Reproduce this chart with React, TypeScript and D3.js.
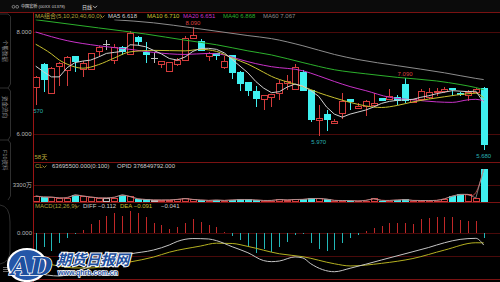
import React from "react";
import * as d3 from "d3";

// ---------------- data ----------------
const opens = [6.91,7.38,6.81,7.34,7.26,7.52,7.28,7.27,7.63,7.76,7.46,7.71,7.57,7.91,7.61,7.49,7.38,7.24,7.38,7.46,7.90,7.83,7.54,7.58,7.32,7.54,7.22,7.01,6.85,6.69,6.73,6.80,7.01,6.88,7.21,6.86,6.27,6.39,6.22,6.41,6.68,6.52,6.55,6.58,6.70,6.68,6.72,6.99,6.63,6.68,6.74,6.84,6.85,6.91,6.81,6.77,6.83,6.91];
const highs = [7.13,7.39,7.31,7.41,7.52,7.52,7.44,7.59,7.72,7.84,7.77,7.72,8.01,7.92,7.80,7.59,7.44,7.41,7.50,7.93,8.09,7.86,7.60,7.59,7.52,7.54,7.23,7.02,6.94,6.76,6.79,7.06,7.16,7.37,7.26,6.87,6.57,6.47,6.29,6.80,6.68,6.61,6.67,6.80,6.70,6.88,6.77,7.09,6.68,6.88,6.90,6.90,6.92,6.91,6.82,6.86,6.90,6.93];
const lows = [6.57,6.83,6.81,6.94,6.95,7.22,7.11,7.26,7.53,7.65,7.37,7.55,7.56,7.75,7.39,7.39,7.30,7.23,7.34,7.46,7.90,7.63,7.43,7.45,7.27,7.07,6.84,6.75,6.53,6.47,6.53,6.67,6.86,6.88,6.85,6.24,5.97,6.05,6.19,6.29,6.48,6.50,6.35,6.57,6.65,6.67,6.57,6.61,6.60,6.65,6.69,6.75,6.80,6.75,6.75,6.65,6.81,5.68];
const closes = [7.11,7.06,7.30,7.40,7.51,7.41,7.39,7.58,7.71,7.76,7.71,7.61,7.99,7.80,7.55,7.49,7.43,7.41,7.45,7.89,7.95,7.63,7.59,7.52,7.43,7.20,6.99,6.84,6.68,6.76,6.78,7.00,7.04,7.31,6.85,6.27,6.31,6.28,6.26,6.65,6.63,6.55,6.64,6.61,6.65,6.74,6.65,6.65,6.68,6.84,6.83,6.85,6.88,6.86,6.76,6.82,6.88,5.79];
// volume in 万股
const volumes = [1160,970,970,780,780,1440,1160,970,780,780,870,1440,1070,580,490,390,390,390,490,680,490,390,290,390,290,390,490,490,390,290,290,490,390,490,490,680,680,580,290,290,290,190,290,680,290,290,390,490,290,290,290,290,580,1160,1490,1490,780,6369.55];
const macdHist = [-0.17,-0.13,-0.17,-0.09,-0.04,-0.01,0.03,0.09,0.127,0.168,0.19,0.165,0.212,0.19,0.158,0.10,0.079,0.041,0.063,0.095,0.136,0.11,0.079,0.057,0.015,-0.026,-0.064,-0.118,-0.19,-0.15,-0.175,-0.128,-0.08,-0.016,-0.01,-0.095,-0.15,-0.166,-0.16,-0.095,-0.042,-0.016,0.022,0.053,0.072,0.10,0.10,0.095,0.086,0.133,0.149,0.158,0.158,0.158,0.127,0.117,0.117,-0.041];
const ma5 = [7.33,7.22,7.12,7.12,7.30,7.40,7.43,7.45,7.51,7.58,7.60,7.62,7.75,7.74,7.71,7.64,7.57,7.48,7.45,7.51,7.62,7.68,7.68,7.66,7.59,7.46,7.33,7.20,7.03,6.90,6.81,6.83,6.92,6.98,6.94,6.85,6.74,6.53,6.39,6.33,6.39,6.43,6.47,6.53,6.60,6.64,6.66,6.67,6.68,6.72,6.75,6.79,6.82,6.85,6.84,6.83,6.84,6.618];
// [candle index, value]
const ma10 = [[0,7.76],[2,7.57],[3,7.45],[4,7.37],[6,7.29],[8,7.36],[10,7.49],[12,7.61],[15,7.64],[19,7.63],[21,7.66],[23,7.62],[25,7.49],[27,7.37],[29,7.21],[30,7.13],[32,7.02],[34,6.93],[36,6.81],[38,6.71],[40,6.62],[42,6.55],[44,6.52],[46,6.56],[48,6.63],[52,6.73],[55,6.79],[56,6.80],[57,6.71]];
const ma20 = [[0,8.00],[4,7.83],[8,7.73],[12,7.66],[15,7.60],[19,7.56],[22,7.58],[24,7.55],[26,7.46],[28,7.38],[30,7.32],[34,7.24],[36,7.14],[38,7.03],[40,6.93],[42,6.85],[45,6.72],[48,6.67],[51,6.63],[53,6.62],[55,6.67],[56,6.68],[57,6.651]];
const ma40 = [[0,8.24],[8,8.08],[14,7.96],[19,7.84],[23,7.75],[27,7.63],[30,7.55],[34,7.40],[38,7.26],[42,7.18],[46,7.11],[51,7.04],[54,6.97],[56,6.91],[57,6.868]];
const ma60 = [[10,8.24],[15,8.18],[20,8.08],[27,7.93],[30,7.87],[34,7.73],[38,7.56],[41,7.46],[46,7.34],[52,7.20],[56,7.09],[57,7.067]];
const diffLine = [[0,-0.378],[3,-0.407],[5,-0.369],[7,-0.311],[9,-0.254],[12,-0.197],[15,-0.159],[17,-0.111],[18,-0.078],[20,-0.05],[22,-0.054],[23,-0.07],[25,-0.128],[27,-0.185],[29,-0.26],[30,-0.27],[31,-0.264],[33,-0.225],[34,-0.235],[35,-0.29],[38,-0.366],[40,-0.333],[44,-0.254],[48,-0.175],[50,-0.135],[52,-0.09],[54,-0.058],[56,-0.048],[57,-0.112]];
const deaLine = [[0,-0.273],[3,-0.311],[5,-0.330],[7,-0.330],[9,-0.311],[12,-0.273],[15,-0.226],[17,-0.180],[21,-0.121],[23,-0.094],[25,-0.097],[27,-0.125],[31,-0.195],[34,-0.223],[38,-0.29],[40,-0.311],[44,-0.286],[48,-0.24],[52,-0.16],[56,-0.09],[57,-0.091]];

const priceTicks = [8, 6];
const volTicks = [3300];
const macdTicks = [0];
const macdGrid = [-0.22];
const maNames = ["MA5", "MA10", "MA20", "MA40", "MA60"];
const maLast = [6.618, 6.710, 6.651, 6.868, 7.067];
const maTitle = "MA组合(5,10,20,40,60,0)";
const volTitle = "CL";
const volLast = 63695500;
const opidLast = 376849792;
const macdTitle = "MACD(12,26,9)";
const diffLast = -0.112;
const deaLast = -0.091;
const macdLast = -0.041;
const marks = [
  { i: 20, kind: "high", text: "8.090" },
  { i: 47, kind: "high", text: "7.090" },
  { i: 36, kind: "low", text: "5.970" },
  { i: 57, kind: "low", text: "5.680" },
  { i: 0, kind: "low", text: "6.570" },
];
const stockName = "中国宏桥";
const stockCode = "(00XX 01378)";
const periodLabel = "日线";
const daysLabel = "58天";
const sideTabs = ["个股数据", "资金流向", "F10资料"];

// ---------------- style ----------------
const FONT = "'Liberation Sans', Arial, 'Noto Sans CJK SC', sans-serif";
const UP = "#d43c3c";
const DOWN = "#3ff0f0";
const FLAT = "#c0c0c0";
const PANEL = "#7a1212";
const GRID = "#4a0a0a";
const AXIS_TEXT = "#b8b8b8";
const MA_COLORS = ["#cfcfcf", "#c8c030", "#c832c8", "#2cb02c", "#8c8c8c"];

const f3 = d3.format(".3f");

function Chevron({ x, y, color }: { x: number; y: number; color: string }) {
  return <path d={`M${x},${y} L${x + 2},${y + 2} L${x + 4},${y}`} fill="none" stroke={color} strokeWidth={0.8} />;
}

export default function App() {
  const n = closes.length;
  const x = d3.scaleLinear().domain([0, n - 1]).range([35.7, 483.7]);
  const yP = d3.scaleLinear().domain([6, 8]).range([134, 32]);
  const yV = d3.scaleLinear().domain([0, 7760]).range([202, 162]);
  const yM = d3.scaleLinear().domain([-0.44, 0.22]).range([279.5, 210.2]);

  const pairLine = (ys: d3.ScaleLinear<number, number>, curve: any) =>
    d3.line<number[]>().x((d) => x(d[0])).y((d) => ys(d[1])).curve(curve);
  const priceCurve = pairLine(yP, d3.curveMonotoneX);
  const macdCurve = pairLine(yM, d3.curveMonotoneX);
  const ma5Line = d3.line<number>().x((_, i) => x(i)).y((d) => yP(d));
  const volLine = d3.line<number>().x((_, i) => x(i)).y((d) => yV(d));
  const volCurve = d3.line<number>().x((_, i) => x(i)).y((d) => yV(d)).curve(d3.curveBasis);

  const cx = (i: number) => Math.round(x(i));

  return (
    <svg width={500} height={282} style={{ position: "absolute", left: 0, top: 0, background: "#000", display: "block" }} fontFamily={FONT}>
      <defs>
        <clipPath id="mainClip"><rect x={33.5} y={19.5} width={466.5} height={142} /></clipPath>
        <clipPath id="volClip"><rect x={33.5} y={163} width={466.5} height={39} /></clipPath>
        <clipPath id="macdClip"><rect x={33.5} y={209} width={466.5} height={70.5} /></clipPath>
      </defs>
      <rect x={0} y={0} width={500} height={282} fill="#000" />

      {/* header */}
      <rect x={0} y={0} width={500} height={12} fill="#0b0b0b" />
      <circle cx={13.5} cy={6.8} r={1.4} fill="none" stroke="#bbb" strokeWidth={0.6} />
      <circle cx={17.2} cy={6.8} r={1.4} fill="none" stroke="#bbb" strokeWidth={0.6} />
      <text x={21} y={8.4} fontSize={4.1} fill="#e0e0e0">{stockName}</text>
      <text x={38.5} y={8.4} fontSize={4.3} fill="#cfcfcf">{stockCode}</text>
      <text x={82} y={8.6} fontSize={5} fill="#e0e0e0">{periodLabel}</text>
      <Chevron x={93} y={5.8} color="#ddd" />

      {/* left side tabs */}
      <g stroke="#3a3a3a" strokeWidth={0.8} fill="none">
        <path d="M0,14 L8,14 L10.5,16.5 L10.5,84 L8,88" />
        <path d="M0,88 L8,88 L10.5,91 L10.5,136 L8,140" />
        <path d="M0,140 L8,140 L10.5,143 L10.5,196 L8,200" />
        <path d="M0,205 Q10,206 10,222 L10,250 Q10,262 0,264" />
      </g>
      {sideTabs.map((t, k) => {
        const yy = [40, 96, 150][k];
        return (
          <text key={t} x={3} y={yy} fontSize={5.5} fill="#8e8e8e" transform={`rotate(90 3 ${yy})`}>{t}</text>
        );
      })}
      <g stroke="#9a9a9a" strokeWidth={0.7}>
        <line x1={3} x2={8} y1={267.5} y2={267.5} />
        <line x1={3} x2={8} y1={269.5} y2={269.5} />
        <line x1={3} x2={8} y1={271.5} y2={271.5} />
      </g>

      {/* panel frames and grid */}
      <g shapeRendering="crispEdges">
        <line x1={0} x2={500} y1={12.5} y2={12.5} stroke={PANEL} />
        {priceTicks.map((t) => (
          <line key={t} x1={33} x2={500} y1={Math.round(yP(t)) + 0.5} y2={Math.round(yP(t)) + 0.5} stroke={GRID} />
        ))}
        <line x1={33} x2={500} y1={162.5} y2={162.5} stroke={PANEL} />
        {volTicks.map((t) => (
          <line key={t} x1={33} x2={500} y1={Math.round(yV(t)) + 0.5} y2={Math.round(yV(t)) + 0.5} stroke={GRID} />
        ))}
        <line x1={33} x2={500} y1={202.5} y2={202.5} stroke={PANEL} />
        {macdTicks.map((t) => (
          <line key={t} x1={33} x2={500} y1={Math.round(yM(t)) + 0.5} y2={Math.round(yM(t)) + 0.5} stroke={GRID} />
        ))}
        {macdGrid.map((t) => (
          <line key={t} x1={33} x2={500} y1={Math.round(yM(t)) + 0.5} y2={Math.round(yM(t)) + 0.5} stroke={GRID} />
        ))}
        <line x1={33} x2={500} y1={279.5} y2={279.5} stroke={PANEL} />
        <line x1={33.5} x2={33.5} y1={12} y2={282} stroke="#9a1414" />
      </g>

      {/* axis labels */}
      <g fontSize={6} fill={AXIS_TEXT} textAnchor="end">
        {priceTicks.map((t) => (
          <text key={t} x={31.5} y={yP(t) + 2.1}>{f3(t)}</text>
        ))}
        {volTicks.map((t) => (
          <text key={t} x={32} y={yV(t) + 2.1}>{`${t}万`}</text>
        ))}
        {macdTicks.map((t) => (
          <text key={t} x={32} y={yM(t) + 2.1}>{f3(t)}</text>
        ))}
      </g>

      {/* main price panel */}
      <g clipPath="url(#mainClip)">
        <g shapeRendering="crispEdges">
          {closes.map((c, i) => {
            const o = opens[i];
            const X = cx(i);
            const yo = yP(o), yc = yP(c), yh = yP(highs[i]), yl = yP(lows[i]);
            const top = Math.min(yo, yc), bot = Math.max(yo, yc);
            if (c === o) {
              return (
                <g key={i} stroke={FLAT}>
                  <line x1={X + 0.5} x2={X + 0.5} y1={yh} y2={yl} />
                  <line x1={X - 3} x2={X + 4} y1={Math.round(yo) + 0.5} y2={Math.round(yo) + 0.5} />
                </g>
              );
            }
            if (c > o) {
              return (
                <g key={i} stroke={UP}>
                  <line x1={X + 0.5} x2={X + 0.5} y1={yh} y2={top} />
                  <line x1={X + 0.5} x2={X + 0.5} y1={bot} y2={yl} />
                  <rect x={X - 2.5} y={Math.round(top) + 0.5} width={6} height={Math.max(Math.round(bot - top), 1)} fill="#000" />
                </g>
              );
            }
            return (
              <g key={i}>
                <line x1={X + 0.5} x2={X + 0.5} y1={yh} y2={yl} stroke={DOWN} />
                <rect x={X - 3} y={top} width={7} height={Math.max(bot - top, 1)} fill={DOWN} />
              </g>
            );
          })}
        </g>
        <g fill="none" strokeWidth={1}>
          <path d={priceCurve(ma60) || ""} stroke={MA_COLORS[4]} />
          <path d={priceCurve(ma40) || ""} stroke={MA_COLORS[3]} />
          <path d={priceCurve(ma20) || ""} stroke={MA_COLORS[2]} />
          <path d={priceCurve(ma10) || ""} stroke={MA_COLORS[1]} />
          <path d={ma5Line(ma5) || ""} stroke={MA_COLORS[0]} />
        </g>
        {marks.map((m) => {
          const isHigh = m.kind === "high";
          const yy = isHigh ? yP(highs[m.i]) - 2.5 : yP(lows[m.i]) + 8;
          return (
            <text key={m.text} x={x(m.i)} y={yy} fontSize={6} textAnchor="middle" fill={isHigh ? "#d84040" : "#2ab0b0"}>{m.text}</text>
          );
        })}
        <text x={34.5} y={158.8} fontSize={6} fill="#b8a838">{daysLabel}</text>
      </g>

      {/* MA legend */}
      <g fontSize={6}>
        <text x={35} y={17.8} fill="#b0a43a">{maTitle}</text>
        <Chevron x={100.5} y={15.5} color="#b0a43a" />
        {maNames.map((nm, k) => (
          <text key={nm} x={[108, 147, 183, 223, 263][k]} y={17.8} fill={MA_COLORS[k]}>{`${nm} ${f3(maLast[k])}`}</text>
        ))}
      </g>

      {/* volume panel */}
      <g clipPath="url(#volClip)">
        <g shapeRendering="crispEdges">
          {volumes.map((v, i) => {
            const X = cx(i);
            const t = yV(v), b = yV(0);
            if (closes[i] >= opens[i]) {
              return <rect key={i} x={X - 2.5} y={Math.round(t) + 0.5} width={6} height={Math.max(Math.round(b - t) - 1, 1)} fill="#000" stroke={closes[i] === opens[i] ? FLAT : UP} />;
            }
            return <rect key={i} x={X - 3} y={t} width={7} height={b - t} fill={DOWN} />;
          })}
        </g>
        <path d={volCurve(volumes) || ""} fill="none" stroke="#c85050" strokeWidth={0.9} />
        <path d={volLine(volumes) || ""} fill="none" stroke="#a8a8a8" strokeWidth={0.7} />
      </g>
      <g fontSize={6}>
        <text x={35} y={167.8} fill="#b0a43a">{volTitle}</text>
        <Chevron x={42.5} y={165.5} color="#b0a43a" />
        <text x={52} y={167.8} fill="#cfcfcf">{`${f3(volLast)}(0:100)`}</text>
        <text x={117} y={167.8} fill="#cfcfcf">{`OPID ${f3(opidLast)}`}</text>
      </g>

      {/* MACD panel */}
      <g clipPath="url(#macdClip)">
        <g shapeRendering="crispEdges">
          {macdHist.map((v, i) => (
            <line key={i} x1={cx(i) + 0.5} x2={cx(i) + 0.5} y1={yM(0)} y2={yM(v)} stroke={v >= 0 ? "#c02828" : "#22b8b8"} />
          ))}
        </g>
        <path d={macdCurve(deaLine) || ""} fill="none" stroke="#b4b020" strokeWidth={1} />
        <path d={macdCurve(diffLine) || ""} fill="none" stroke="#c4c4c4" strokeWidth={1} />
      </g>
      <g fontSize={6}>
        <text x={35} y={207.8} fill="#b0a43a">{macdTitle}</text>
        <Chevron x={75} y={205.5} color="#b0a43a" />
        <text x={83} y={207.8} fill="#cfcfcf">{`DIFF ${f3(diffLast)}`}</text>
        <text x={120} y={207.8} fill="#c8c030">{`DEA ${f3(deaLast)}`}</text>
        <text x={161} y={207.8} fill="#cfcfcf">{f3(macdLast)}</text>
      </g>

      {/* watermark */}
      <g>
        <ellipse cx={27} cy={265} rx={19} ry={16} fill="#2456a8" stroke="#ffffff" strokeWidth={2.2} />
        <text x={11} y={275} fontSize={25} fontWeight="bold" fontStyle="italic" fill="#1d4f9e" stroke="#ffffff" strokeWidth={1.6} style={{ paintOrder: "stroke" }} fontFamily="'DejaVu Serif', serif">AD</text>
        <text x={57} y={265} fontSize={14.5} fontWeight="bold" fontStyle="italic" fill="#1d4f9e" stroke="#ffffff" strokeWidth={2} style={{ paintOrder: "stroke" }} fontFamily="'Noto Sans CJK SC', sans-serif">期货日报网</text>
        <text x={58} y={274.5} fontSize={7} fontWeight="bold" fill="#1d4f9e" stroke="#ffffff" strokeWidth={1.3} style={{ paintOrder: "stroke" }}>www.qhrb.com.cn</text>
      </g>
    </svg>
  );
}
